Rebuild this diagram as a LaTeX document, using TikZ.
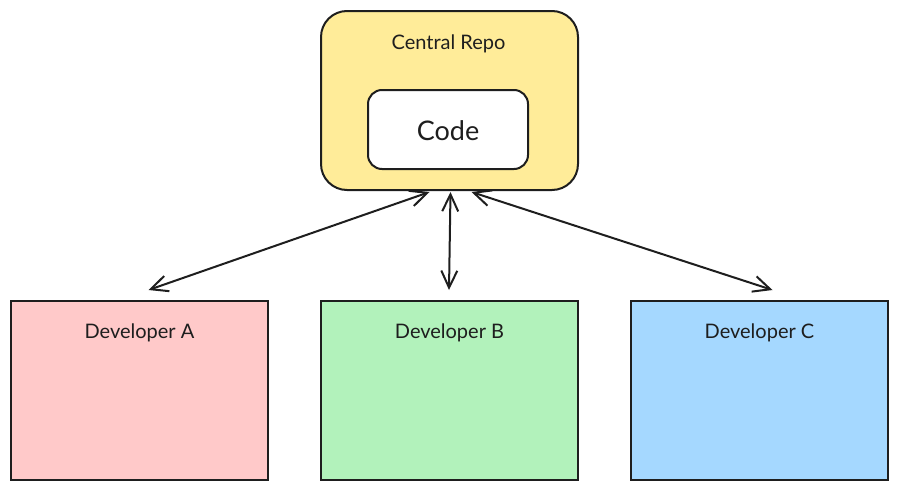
\documentclass[tikz,border=0pt]{standalone}
\usepackage{fontspec}
\setmainfont{Lato}
\usetikzlibrary{arrows.meta,calc}
\definecolor{ink}{HTML}{1E1E1E}
\definecolor{repofill}{HTML}{FFEC99}
\definecolor{afill}{HTML}{FFC9C9}
\definecolor{bfill}{HTML}{B2F2BB}
\definecolor{cfill}{HTML}{A5D8FF}
\tikzset{
  box/.style={draw=ink, line width=2pt, text=ink, inner sep=0pt},
  devbox/.style={box, minimum width=257pt, minimum height=179pt, anchor=north west},
  lbl/.style={text=ink, font=\fontsize{20}{24}\selectfont, inner sep=0pt},
  barbtip/.tip={Straight Barb[length=17pt,width=16pt,line width=2pt]},
  link/.style={draw=ink, line width=2pt, barbtip-barbtip}
}
\begin{document}
\begin{tikzpicture}[x=1pt,y=-1pt]
\useasboundingbox (0,0) rectangle (897,490);
\node[box, fill=repofill, rounded corners=26pt, minimum width=257pt, minimum height=179pt, anchor=north west] (repo) at (320,10) {};
\node[lbl] (repolbl) at (448.5,44) {Central Repo};
\node[box, fill=white, rounded corners=14pt, minimum width=160pt, minimum height=79pt] (code) at (448,129.5) {};
\node[lbl, font=\fontsize{27}{30}\selectfont] (codelbl) at (448,131) {Code};
\node[devbox, fill=afill] (devA) at (10,300) {};
\node[devbox, fill=bfill] (devB) at (320,300) {};
\node[devbox, fill=cfill] (devC) at (630,300) {};
\node[lbl] (alabel) at ($(devA.north)+(0,33)$) {Developer A};
\node[lbl] (blabel) at ($(devB.north)+(0,33)$) {Developer B};
\node[lbl] (clabel) at ($(devC.north)+(0,33)$) {Developer C};
\draw[link] ([xshift=-20pt,yshift=-1pt]repo.south) -- ([xshift=9pt,yshift=10pt]devA.north);
\draw[link] ([xshift=1pt,yshift=-1pt]repo.south) -- ([xshift=-0.5pt,yshift=10pt]devB.north);
\draw[link] ([xshift=22pt,yshift=-1pt]repo.south) -- ([xshift=13pt,yshift=10pt]devC.north);
\end{tikzpicture}
\end{document}
